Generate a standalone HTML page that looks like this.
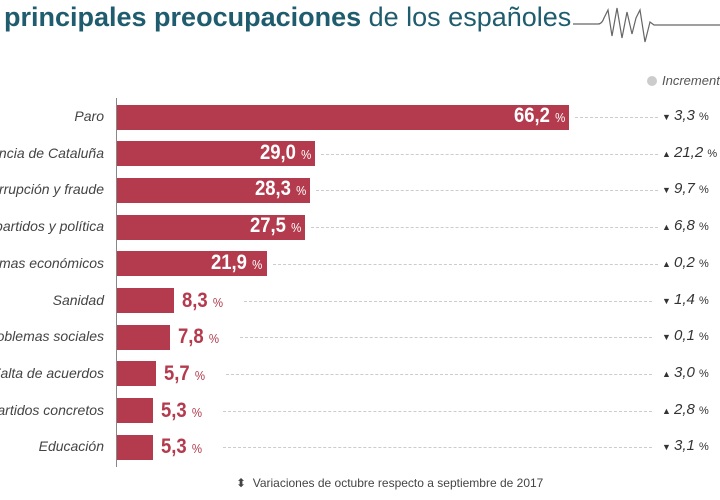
<!DOCTYPE html><html><head><meta charset="utf-8"><style>
body{margin:0;width:720px;height:500px;background:#fff;position:relative;overflow:hidden;font-family:"Liberation Sans",sans-serif}
.t{position:absolute;left:4px;top:2px;font-size:27px;color:#1f5c6d;white-space:nowrap}
.lab{position:absolute;right:616px;font-style:italic;font-size:14px;color:#444;white-space:nowrap;text-align:right}
.bar{position:absolute;left:117px;height:25px;background:#b33b4d}
.v{position:absolute;font-weight:bold;font-size:21px;white-space:nowrap;transform:scaleX(0.88);transform-origin:left center}
.v.r{transform-origin:right center}
.v small{font-size:13px;font-weight:normal}
.d{position:absolute;border-top:1px dashed #ccc;height:0}
.inc{position:absolute;left:662px;font-style:italic;font-size:15px;color:#333;white-space:nowrap}
.inc small{font-size:11px;font-style:normal}
.ar{font-size:9px;font-style:normal;display:inline-block;width:12px}
</style></head><body>
<div class="t"><b>principales preocupaciones</b> de los españoles</div>
<svg style="position:absolute;left:0;top:0" width="720" height="60"><path d="M573 24 H598 Q602 24 604 18 L608 10 L612 36 L617 8 L622 38 L627 12 L632 34 L636 18 L640 10 L645 42 L650 22 L654 25 H720" fill="none" stroke="#666" stroke-width="1.2"/></svg>
<div style="position:absolute;left:647px;top:76px;width:10px;height:10px;border-radius:5px;background:#ccc"></div>
<div style="position:absolute;left:662px;top:73px;font-style:italic;font-size:13px;color:#555">Increment</div>
<div style="position:absolute;left:116px;top:98px;width:1px;height:369px;background:#888"></div>
<div id="rows"></div>
<div style="position:absolute;left:236px;top:476px;font-size:12px;color:#444">⬍ &nbsp;Variaciones de octubre respecto a septiembre de 2017</div>
<script>
var d=[["Paro",66.2,"▼","3,3"],["ncia de Cataluña",29.0,"▲","21,2"],["rrupción y fraude",28.3,"▼","9,7"],["partidos y política",27.5,"▲","6,8"],["mas económicos",21.9,"▲","0,2"],["Sanidad",8.3,"▼","1,4"],["oblemas sociales",7.8,"▼","0,1"],["Falta de acuerdos",5.7,"▲","3,0"],["artidos concretos",5.3,"▲","2,8"],["Educación",5.3,"▼","3,1"]];
var h="";
d.forEach(function(r,i){var c=117+i*36.7,w=r[1]*6.83,e=117+w,s=r[1].toFixed(1).replace(".",",");
h+='<div class="lab" style="top:'+(c-9)+'px">'+r[0]+'</div><div class="bar" style="top:'+(c-12.5)+'px;width:'+w+'px"></div>';
var inside=r[1]>20;
if(inside)h+='<div class="v r" style="color:#fff;right:'+(720-e+4)+'px;top:'+(c-13)+'px">'+s+' <small>%</small></div><div class="d" style="left:'+(e+6)+'px;width:'+(652-e)+'px;top:'+c+'px"></div>';
else{var x=e+8;h+='<div class="v" style="color:#b33b4d;left:'+x+'px;top:'+(c-12)+'px">'+s+' <small>%</small></div><div class="d" style="left:'+(x+62)+'px;width:'+(652-x-62)+'px;top:'+c+'px"></div>';}
h+='<div class="inc" style="top:'+(c-10)+'px"><span class="ar">'+r[2]+'</span>'+r[3]+' <small>%</small></div>';});
document.getElementById("rows").innerHTML=h;
</script></body></html>
